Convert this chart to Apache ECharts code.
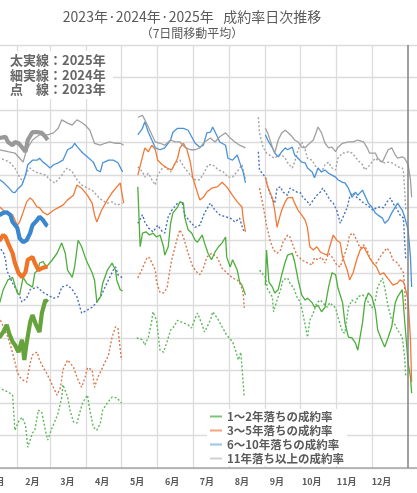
<!DOCTYPE html>
<html>
<head>
<meta charset="utf-8">
<script src="https://cdn.jsdelivr.net/npm/echarts@6/dist/echarts.min.js"></script>
<style>
  html, body { margin: 0; padding: 0; width: 417px; height: 493px; overflow: hidden; background: #fff; }
  #chart { position: absolute; left: -40px; top: 0; width: 480px; height: 493px; }
</style>
</head>
<body>
<div id="chart"></div>
<script>
// x = day of year on a shared calendar axis (0 = 1/1), y = 成約率 (%)
const MONTHS = ['1月', '2月', '3月', '4月', '5月', '6月', '7月', '8月', '9月', '10月', '11月', '12月']
const MONTH_DAYS = [31, 28, 31, 30, 31, 30, 31, 31, 30, 31, 30, 31]
const LEGEND_NAMES = ['1～2年落ちの成約率', '3～5年落ちの成約率', '6～10年落ちの成約率', '11年落ち以上の成約率']
const NOTE_LINES = ['太実線：2025年', '細実線：2024年', '点　線：2023年']

// 1~2年落ち
const rate12_2025 = [[8,20.5],[16,20.1],[19,20.9],[22,22.0],[24,20.7],[27,19.4],[29,18.9],[32,17.8],[35,19.7],[37,16.6],[39,19.2],[42,22.4],[44,23.5],[47,22.0],[50,20.9],[52,23.8],[55,25.8],[57,25.5]]
const rate12_2024 = [[8,24.5],[16,25.4],[19,27.4],[23,28.9],[27,29.3],[31,26.9],[33,26.6],[36,29.3],[39,28.4],[44,27.8],[46,30.0],[49,30.4],[50,31.5],[53,31.7],[56,30.9],[61,32.0],[65,33.0],[69,34.6],[72,33.0],[74,30.4],[78,29.3],[80,30.9],[83,35.0],[86,34.0],[89,32.4],[91,31.5],[95,30.0],[97,28.9],[99,25.5],[102,26.3],[104,28.4],[108,30.4],[112,31.5],[115,30.4],[116,28.9],[119,27.4],[121,27.2],
  [128,null],
  [134,43.2],[136,34.0],[138,36.1],[141,36.3],[144,35.8],[147,36.1],[150,35.5],[153,35.8],[156,34.0],[157,32.7],[160,34.0],[162,37.6],[164,39.2],[168,40.1],[170,40.9],[173,40.7],[174,38.6],[177,36.6],[180,36.1],[183,35.0],[185,34.7],[189,35.8],[191,34.6],[194,33.0],[197,32.0],[200,33.2],[203,34.0],[206,34.6],[209,35.5],[210,32.4],[213,30.9],[215,32.0],[219,30.4],[221,28.6],[223,28.1],[226,26.6],
  [231,null],
  [243,28.1],[244,33.5],[246,28.6],[249,27.8],[251,26.9],[254,27.4],[257,29.7],[260,31.7],[262,32.7],[266,33.0],[268,31.7],[271,28.9],[274,26.6],[277,25.8],[279,26.1],[283,25.4],[285,24.7],[288,25.0],[291,24.0],[294,24.7],[297,27.8],[300,30.0],[303,29.7],[305,27.7],[309,25.4],[311,22.3],[314,20.1],[317,20.0],[320,19.2],[322,18.1],[326,22.3],[328,25.5],[331,26.9],[334,26.3],[337,24.3],[339,21.2],[343,19.4],[345,18.6],[348,20.1],[351,21.7],[354,25.4],[356,26.3],[360,27.4],[362,22.7],[365,16.1],[367,14.0],[368,11.5]]
const rate12_2023 = [[8,12.0],[16,12.3],[19,12.0],[23,11.7],[27,11.2],[29,5.8],[32,7.1],[35,7.8],[38,6.6],[40,3.2],[44,5.4],[46,5.8],[49,8.9],[52,8.5],[55,5.8],[57,4.3],[61,6.3],[63,7.1],[66,8.5],[69,10.9],[70,12.8],[74,10.9],[76,8.9],[79,7.1],[82,6.9],[85,8.9],[87,10.1],[91,11.2],[93,8.9],[96,6.3],[99,5.8],[102,6.9],[104,8.9],[108,10.0],[112,10.9],[116,10.8],[120,10.0],
  [128,null],
  [133,20.0],[138,19.7],[140,18.9],[143,20.1],[146,22.7],[147,24.0],[150,22.7],[153,18.1],[156,17.8],[159,19.4],[162,21.2],[164,21.5],[168,22.7],[173,22.3],[177,22.0],[180,21.5],[183,23.0],[185,23.8],[189,22.0],[191,20.9],[196,22.7],[198,24.0],[202,23.0],[206,21.7],[210,20.4],[215,19.4],[218,17.8],[220,16.6],[222,17.8],[225,10.9],
  [231,null],
  [238,30.4],[243,29.3],[245,27.4],[249,26.3],[250,24.0],[253,25.8],[256,27.4],[258,28.9],[262,29.2],[264,28.4],[267,27.7],[270,26.3],[273,25.4],[275,23.8],[279,20.1],[281,22.7],[284,23.8],[287,25.4],[290,25.8],[292,25.4],[296,24.7],[298,25.4],[303,24.6],[305,23.2],[309,20.9],[311,20.7],[314,24.7],[317,25.8],[320,25.4],[322,26.3],[326,26.6],[328,26.3],[331,25.5],[334,24.6],[337,25.8],[339,27.8],[343,29.2],[345,27.7],[348,24.7],[351,22.7],[354,22.0],[356,21.2],[360,20.1],[362,17.1],[363,14.0]]

// 3~5年落ち
const rate35_2025 = [[8,35.3],[16,35.0],[19,35.8],[21,35.5],[23,34.6],[27,33.0],[29,31.5],[32,30.0],[35,29.3],[38,30.1],[40,32.0],[44,32.4],[46,31.5],[49,30.4],[52,30.7],[55,30.9],[57,30.9]]
const rate35_2024 = [[8,40.4],[16,40.1],[21,39.3],[23,39.2],[27,38.9],[31,37.3],[33,37.8],[36,39.3],[39,40.9],[42,41.5],[44,41.2],[48,40.1],[50,40.0],[53,39.3],[57,38.9],[62,39.6],[66,40.0],[70,40.4],[74,41.2],[79,41.9],[82,43.5],[86,43.0],[91,41.9],[95,40.7],[97,38.9],[99,37.8],[103,39.6],[108,41.2],[112,42.3],[116,43.2],[119,43.8],[121,41.6],[122,40.7],
  [128,null],
  [134,45.0],[138,47.8],[140,49.2],[143,48.6],[146,49.6],[149,48.9],[151,47.3],[155,46.6],[159,46.1],[163,45.8],[168,47.6],[170,49.2],[173,49.9],[176,48.9],[179,46.9],[181,44.6],[185,42.3],[187,41.2],[190,41.6],[193,42.4],[197,43.0],[202,43.2],[206,43.9],[210,43.2],[215,41.9],[219,40.9],[223,40.1],[224,38.4],[226,36.3],
  [231,null],
  [243,44.7],[245,43.2],[249,41.5],[251,39.6],[253,37.0],[255,38.4],[257,39.6],[260,40.9],[262,41.5],[266,41.6],[268,40.7],[271,39.6],[274,38.9],[277,38.1],[279,36.9],[281,34.0],[284,33.5],[287,34.0],[290,33.2],[292,33.0],[296,32.7],[298,34.0],[301,35.8],[304,35.0],[307,34.6],[309,32.4],[313,30.4],[315,28.9],[318,30.0],[321,32.0],[324,33.5],[327,34.0],[330,33.0],[332,32.3],[335,31.5],[338,30.9],[341,29.7],[344,30.0],[347,29.3],[350,28.6],[352,28.1],[356,28.4],[358,28.9],[361,28.6],[362,28.1],[365,25.8],[367,19.7],[368,13.2]]
const rate35_2023 = [[8,23.5],[16,23.0],[19,21.7],[23,20.1],[27,17.7],[31,14.8],[33,14.0],[36,13.5],[39,13.2],[42,16.1],[44,17.4],[48,17.8],[50,16.6],[53,15.5],[56,14.6],[59,13.5],[62,12.3],[65,11.2],[68,12.4],[70,15.1],[74,16.6],[79,15.5],[83,13.5],[86,12.4],[89,14.0],[91,15.4],[95,15.1],[97,12.4],[100,14.0],[104,15.5],[109,17.4],[112,20.1],[115,21.7],[117,21.5],[120,16.6],
  [128,null],
  [134,29.2],[138,30.7],[142,32.4],[144,32.3],[149,30.4],[150,28.6],[153,27.0],[156,26.9],[159,27.7],[161,30.0],[163,32.0],[168,35.5],[170,36.6],[173,35.5],[177,33.0],[181,30.9],[185,30.0],[187,29.7],[190,30.7],[193,32.4],[197,33.0],[202,32.3],[206,30.7],[210,30.0],[215,29.2],[219,28.9],[222,28.1],[224,27.0],[225,24.6],
  [231,null],
  [238,43.0],[241,40.4],[244,37.3],[247,35.0],[250,33.5],[253,33.0],[256,33.5],[258,34.7],[262,35.8],[264,35.5],[267,34.0],[270,32.7],[274,32.0],[279,31.5],[283,31.2],[285,32.3],[288,32.0],[291,32.4],[294,31.5],[297,33.0],[300,32.4],[304,31.2],[307,30.9],[309,32.0],[313,34.0],[315,35.8],[318,36.1],[321,35.0],[324,33.8],[327,34.3],[330,33.5],[332,32.4],[335,31.5],[338,31.5],[341,32.4],[344,33.2],[347,33.8],[350,33.0],[352,32.0],[356,31.5],[358,30.9],[361,30.0],[362,27.8],[363,24.3]]

// 6~10年落ち
const rate610_2025 = [[8,38.5],[16,38.9],[19,39.2],[22,39.3],[25,38.9],[27,37.8],[31,36.9],[33,35.3],[36,34.7],[39,35.0],[42,36.1],[44,37.3],[48,38.1],[50,38.6],[53,38.1],[56,37.3],[57,37.2]]
const rate610_2024 = [[8,44.6],[16,44.3],[19,43.9],[23,43.2],[27,42.4],[29,42.3],[32,43.0],[35,43.5],[38,45.0],[40,46.6],[44,47.3],[48,47.3],[50,47.6],[53,47.0],[56,46.6],[59,46.1],[62,46.6],[66,46.9],[70,47.3],[74,48.9],[78,49.3],[80,49.9],[83,49.2],[87,48.4],[91,47.8],[96,47.0],[99,45.8],[102,45.5],[104,46.9],[109,47.3],[113,47.3],[117,46.9],[121,45.5],
  [128,null],
  [134,51.2],[138,52.2],[140,53.2],[143,51.6],[146,50.4],[149,49.2],[153,48.9],[157,49.2],[162,50.4],[164,51.6],[168,52.2],[173,52.2],[177,51.9],[180,50.9],[183,49.9],[187,49.3],[190,49.6],[193,51.5],[196,51.6],[198,52.4],[202,50.9],[204,50.1],[209,49.6],[211,47.6],[215,47.3],[219,48.1],[221,47.0],[224,45.5],[226,43.8],
  [231,null],
  [243,51.2],[245,50.4],[249,49.2],[251,48.4],[254,47.8],[257,48.6],[260,49.2],[262,48.9],[266,49.3],[268,48.1],[271,47.6],[274,47.0],[277,46.9],[279,46.1],[283,45.5],[285,44.6],[288,46.1],[291,45.5],[294,45.8],[297,45.3],[300,45.0],[303,44.7],[305,44.3],[309,43.9],[311,43.8],[314,43.0],[317,41.6],[320,42.4],[322,41.9],[326,42.7],[328,41.9],[331,40.7],[334,40.1],[337,39.2],[339,38.9],[343,38.4],[345,37.6],[348,38.1],[351,39.2],[354,40.1],[356,40.7],[360,39.6],[362,38.6],[365,36.6],[367,32.4],[368,27.8]]
const rate610_2023 = [[8,34.5],[16,33.8],[19,33.2],[21,32.0],[22,30.4],[27,28.4],[32,26.9],[35,25.5],[39,26.1],[42,27.4],[48,27.8],[53,27.0],[57,26.6],[62,26.1],[66,26.3],[69,27.8],[74,28.1],[78,27.4],[82,26.3],[86,23.8],[91,24.3],[95,24.7],[99,25.5],[103,26.6],[106,27.8],[110,29.3],[113,30.4],[115,30.9],[117,29.7],[121,29.2],
  [128,null],
  [134,37.6],[138,38.9],[140,37.8],[143,36.9],[147,36.3],[151,37.3],[155,36.3],[157,36.1],[160,38.6],[163,39.6],[168,40.7],[172,40.9],[174,38.9],[179,37.8],[183,37.0],[187,37.3],[191,39.2],[196,40.7],[200,39.6],[204,38.9],[209,38.6],[213,38.4],[217,37.8],[221,38.4],[224,36.6],[226,36.3],
  [231,null],
  [237,48.6],[238,45.8],[243,44.7],[245,43.2],[249,41.2],[251,40.7],[253,43.0],[256,43.2],[258,42.4],[262,41.9],[264,43.0],[267,42.7],[270,42.4],[273,42.3],[275,41.6],[279,40.9],[281,40.4],[284,41.2],[287,41.9],[290,42.4],[292,43.0],[296,41.9],[298,41.2],[301,40.7],[304,39.6],[307,37.6],[309,38.4],[313,40.1],[315,41.6],[318,42.3],[321,41.6],[324,41.2],[327,40.7],[330,40.4],[332,40.1],[335,39.6],[338,40.0],[341,40.1],[344,40.0],[347,40.9],[350,41.5],[352,40.7],[356,39.6],[358,38.9],[361,38.4],[362,35.0],[363,32.0]]

// 11年落ち以上
const rate11_2025 = [[8,50.5],[16,50.7],[21,50.9],[23,50.1],[27,49.6],[29,50.1],[32,49.9],[35,49.3],[38,48.6],[40,50.4],[44,51.6],[46,51.6],[49,51.6],[52,51.5],[55,50.9],[57,50.4]]
const rate11_2024 = [[8,49.0],[16,48.9],[23,48.6],[29,48.4],[33,47.6],[36,47.0],[39,48.9],[44,50.4],[50,51.2],[57,51.2],[62,51.5],[66,52.2],[69,53.5],[74,53.0],[78,52.7],[82,53.5],[85,53.2],[89,52.7],[93,51.9],[97,49.9],[102,49.6],[106,49.9],[110,50.1],[115,49.9],[119,49.9],[122,49.6],
  [128,null],
  [134,53.9],[138,54.2],[140,53.5],[143,52.4],[146,51.2],[149,50.1],[153,49.9],[157,49.6],[162,50.4],[166,50.1],[170,50.1],[174,49.3],[179,48.9],[183,48.9],[187,49.2],[191,50.1],[196,50.7],[200,50.1],[204,50.9],[209,51.5],[213,50.7],[217,50.1],[221,49.6],[226,49.2],
  [231,null],
  [243,52.2],[245,51.5],[249,49.3],[251,48.4],[254,50.4],[257,51.5],[260,51.9],[262,51.6],[266,50.9],[268,50.4],[271,50.1],[274,49.3],[277,49.2],[279,49.6],[284,50.4],[287,51.9],[288,52.4],[291,51.5],[294,49.9],[297,49.2],[300,49.3],[303,48.6],[305,49.3],[309,49.9],[314,50.1],[318,50.1],[322,50.4],[327,50.1],[330,49.2],[332,48.4],[337,48.4],[339,47.6],[343,47.0],[345,47.8],[348,48.9],[351,49.2],[354,48.1],[356,47.6],[360,47.8],[362,47.6],[365,46.6],[367,44.3],[368,41.6]]
const rate11_2023 = [[8,47.9],[16,47.6],[21,47.3],[25,46.9],[29,46.1],[33,44.7],[36,43.9],[39,45.5],[42,46.1],[46,45.5],[50,45.3],[55,45.0],[59,44.3],[63,43.8],[68,44.7],[72,45.8],[74,46.1],[78,45.5],[82,44.3],[86,43.5],[91,43.0],[95,42.7],[99,41.9],[103,41.2],[108,40.7],[112,40.9],[116,40.4],[121,40.7],
  [128,null],
  [134,46.3],[138,45.5],[140,44.7],[143,45.3],[146,44.3],[149,43.5],[151,45.0],[155,46.1],[157,46.3],[162,45.5],[166,46.9],[170,47.3],[174,46.1],[179,45.0],[183,44.3],[187,44.3],[191,45.5],[194,46.6],[198,46.6],[203,45.8],[207,45.5],[211,44.7],[215,44.7],[220,45.8],[223,46.6],[226,44.3],
  [231,null],
  [237,53.9],[238,51.5],[241,49.3],[244,48.4],[249,47.8],[251,47.6],[254,48.1],[257,48.1],[260,47.6],[262,46.9],[266,46.1],[268,47.0],[271,48.9],[274,50.1],[277,48.9],[279,47.6],[283,47.3],[285,46.6],[288,45.8],[291,45.5],[294,46.6],[297,47.0],[300,46.1],[303,45.8],[305,47.6],[309,48.4],[311,48.4],[314,48.6],[317,48.4],[320,47.8],[322,47.3],[326,46.6],[328,45.8],[331,46.3],[334,47.0],[337,47.6],[339,47.3],[343,47.0],[345,46.9],[348,47.0],[351,46.9],[354,46.6],[356,46.3],[360,46.1],[361,45.5],[362,42.7],[363,39.6]]

// calendar categories: this year + first days of the next
const days = []
const monthStarts = []
for (let y = 0; y < 2; y++) {
  for (let m = 0; m < 12; m++) {
    monthStarts.push(days.length)
    for (let d = 1; d <= MONTH_DAYS[m]; d++) days.push((y ? '翌' : '') + (m + 1) + '/' + d)
  }
}
const dayAxis = days.slice(0, 377)

function lineSeries(name, data, color, year) {
  let lineStyle
  if (year === 2025) lineStyle = { width: 4.2, color }
  else if (year === 2024) lineStyle = { width: 1.3, color }
  else lineStyle = { width: 1.4, color, type: [2, 2] }
  return {
    name,
    type: 'line',
    data,
    showSymbol: false,
    symbol: 'none',
    connectNulls: false,
    silent: true,
    lineStyle,
    itemStyle: { color },
    z: year === 2025 ? 5 : year === 2024 ? 4 : 3
  }
}

const series = [
  lineSeries('1～2年 2023', rate12_2023, '#5cb85c', 2023),
  lineSeries('3～5年 2023', rate35_2023, '#d9784c', 2023),
  lineSeries('6～10年 2023', rate610_2023, '#4a70bd', 2023),
  lineSeries('11年 2023', rate11_2023, '#a3a3a3', 2023),
  lineSeries('1～2年 2024', rate12_2024, '#4caf3a', 2024),
  lineSeries('3～5年 2024', rate35_2024, '#f27a36', 2024),
  lineSeries('6～10年 2024', rate610_2024, '#4a92d8', 2024),
  lineSeries('11年 2024', rate11_2024, '#a0a0a0', 2024),
  lineSeries('1～2年 2025', rate12_2025, '#66a33c', 2025),
  lineSeries('3～5年 2025', rate35_2025, '#f07428', 2025),
  lineSeries('6～10年 2025', rate610_2025, '#3a87cf', 2025),
  lineSeries('11年 2025', rate11_2025, '#999999', 2025)
]

// year end marker
series[7].markLine = {
  silent: true,
  symbol: 'none',
  label: { show: false },
  lineStyle: { color: '#808080', type: 'solid', width: 1.5 },
  data: [{ xAxis: '翌1/1' }]
}

// legend-only entries (lighter swatches)
const legendColors = ['#7cc576', '#f4a47c', '#9cc3e8', '#d0d0d0']
LEGEND_NAMES.forEach((name, i) => {
  series.push({ name, type: 'line', data: [], color: legendColors[i], xAxisIndex: 0, yAxisIndex: 0 })
})

const chart = echarts.init(document.getElementById('chart'))

chart.setOption({
  animation: false,
  textStyle: { fontFamily: "'Noto Sans CJK JP', sans-serif" },
  grid: [
    { left: 21, right: 19, top: 45, bottom: 25, outerBoundsMode: 'none' },
    { left: 20, right: 41, top: 45, bottom: 25, outerBoundsMode: 'none' }
  ],
  xAxis: [
    {
      type: 'category',
      gridIndex: 0,
      data: dayAxis,
      boundaryGap: false,
      axisLine: { lineStyle: { color: '#a6a6a6', width: 1.5 } },
      axisTick: { show: false },
      axisLabel: { show: false },
      splitLine: {
        show: true,
        interval: (i) => monthStarts.includes(i) && i > 0 && i < 365,
        lineStyle: { color: '#dcdcdc', width: 1.3 }
      }
    },
    {
      type: 'category',
      gridIndex: 1,
      data: MONTHS,
      boundaryGap: true,
      axisLine: { show: false },
      axisTick: { show: false },
      splitLine: { show: false },
      axisLabel: { fontSize: 9, fontWeight: 'bold', color: '#595959', margin: 9, interval: 0 }
    }
  ],
  yAxis: [
    {
      type: 'value',
      gridIndex: 0,
      min: 0,
      max: 65,
      interval: 5,
      axisLine: { show: false },
      axisTick: { show: false },
      axisLabel: { show: false },
      splitLine: { lineStyle: { color: '#dcdcdc', width: 1.3 } }
    },
    { type: 'value', gridIndex: 1, show: false }
  ],
  legend: {
    data: LEGEND_NAMES,
    orient: 'vertical',
    left: 247,
    top: 409,
    padding: [1, 3],
    backgroundColor: '#fff',
    icon: 'rect',
    itemWidth: 12,
    itemHeight: 2,
    itemGap: 1,
    selectedMode: false,
    textStyle: { fontSize: 11.5, fontWeight: 'bold', color: '#595959', lineHeight: 13 }
  },
  graphic: [
    {
      type: 'text',
      x: 232,
      y: 17,
      style: {
        text: '2023年·2024年·2025年   成約率日次推移',
        font: '14px "Noto Sans CJK JP"',
        fill: '#595959',
        align: 'center',
        verticalAlign: 'middle'
      }
    },
    {
      type: 'text',
      x: 232,
      y: 33,
      style: {
        text: '（7日間移動平均）',
        font: '12px "Noto Sans CJK JP"',
        fill: '#595959',
        align: 'center',
        verticalAlign: 'middle'
      }
    },
    {
      type: 'rect',
      z: 100,
      zlevel: 1,
      shape: { x: 40, y: 51, width: 113, height: 48 },
      style: { fill: '#fff' }
    },
    {
      type: 'text',
      z: 101,
      zlevel: 1,
      x: 50,
      y: 53,
      style: {
        text: NOTE_LINES.join('\n'),
        font: 'bold 13px "Noto Sans CJK JP"',
        fill: '#666666',
        lineHeight: 14.5
      }
    }
  ],
  series
})
</script>
</body>
</html>
